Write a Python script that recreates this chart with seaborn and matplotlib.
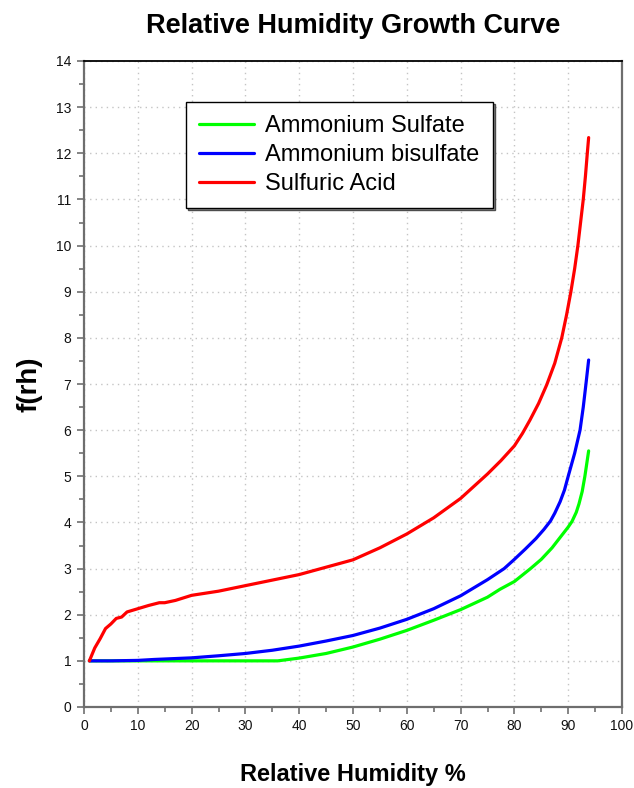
import matplotlib
matplotlib.use("Agg")
import matplotlib.pyplot as plt
from matplotlib.ticker import MultipleLocator
import pandas as pd
import seaborn as sns

# Growth factor f(rh) versus relative humidity for three aerosol types
series_names = ["Ammonium Sulfate", "Ammonium bisulfate", "Sulfuric Acid"]

sulfate_rh = [1, 10, 20, 30, 36, 38, 40, 45, 50, 55, 60, 65, 70, 75, 77.3,
              80, 83, 85, 87, 89, 90, 90.7, 91.5, 92, 92.6, 93.1, 93.8]
sulfate_f = [1.0, 1.0, 1.0, 1.0, 1.0, 1.03, 1.06, 1.16, 1.30, 1.47, 1.66,
             1.88, 2.11, 2.38, 2.55, 2.72, 3.0, 3.2, 3.45, 3.75, 3.9, 4.02,
             4.22, 4.4, 4.67, 5.0, 5.55]

bisulfate_rh = [1, 5, 10, 13, 15, 20, 25, 30, 35, 40, 45, 50, 55, 60, 65, 70,
                75, 78.1, 80, 82, 84, 85.5, 86.7, 87.5, 88.5, 89.3, 90, 91.2,
                92.2, 92.8, 93.3, 93.8]
bisulfate_f = [1.0, 1.0, 1.01, 1.03, 1.04, 1.065, 1.11, 1.16, 1.23, 1.32,
               1.43, 1.55, 1.71, 1.90, 2.13, 2.41, 2.76, 3.0, 3.2, 3.42, 3.65,
               3.85, 4.03, 4.2, 4.45, 4.7, 5.0, 5.5, 6.0, 6.5, 7.0, 7.52]

acid_rh = [1, 2, 3, 4, 5, 6, 7, 8, 10, 12, 14, 15, 17, 20, 25, 30, 35, 40,
           45, 50, 55, 60, 65, 70, 75, 77.5, 80, 81.5, 82.9, 84.5, 86, 87.5,
           88.8, 89.7, 90.5, 91.2, 91.8, 92.3, 92.8, 93.2, 93.55, 93.8]
acid_f = [1.0, 1.28, 1.48, 1.70, 1.80, 1.92, 1.95, 2.06, 2.13, 2.20, 2.26,
          2.26, 2.31, 2.42, 2.51, 2.63, 2.75, 2.87, 3.03, 3.19, 3.45, 3.75,
          4.10, 4.52, 5.05, 5.34, 5.66, 5.93, 6.22, 6.58, 6.98, 7.45, 8.0,
          8.5, 9.0, 9.5, 10.0, 10.5, 11.0, 11.5, 12.0, 12.34]

line_colors = ["#00ff00", "#0000ff", "#ff0000"]

x_ticks = list(range(0, 101, 10))
y_ticks = list(range(0, 15))

frames = []
for name, rh, f in zip(series_names,
                       [sulfate_rh, bisulfate_rh, acid_rh],
                       [sulfate_f, bisulfate_f, acid_f]):
    frames.append(pd.DataFrame({"rh": rh, "f": f, "species": name}))
data = pd.concat(frames, ignore_index=True)

sns.set_style("white")
plt.rcParams["font.family"] = ["Liberation Sans", "DejaVu Sans"]
plt.rcParams["text.color"] = "black"
plt.rcParams["axes.labelcolor"] = "black"

fig = plt.figure(figsize=(6.34, 7.88), dpi=100)
ax = fig.add_axes([84 / 634, 1 - 707 / 788, 538 / 634, 646 / 788])

sns.lineplot(data=data, x="rh", y="f", hue="species", hue_order=series_names,
             palette=line_colors, sort=False, estimator=None, linewidth=2.3,
             ax=ax, legend=False)

ax.set_xlim(0, 100)
ax.set_ylim(0, 14)
ax.set_xticks(x_ticks)
ax.set_yticks(y_ticks)
ax.xaxis.set_minor_locator(MultipleLocator(5))
ax.yaxis.set_minor_locator(MultipleLocator(0.5))

ax.grid(True, which="major", color="#c4c4c4", linestyle=(0, (1, 3)),
        linewidth=1.0)
ax.set_axisbelow(True)

ax.tick_params(which="major", direction="out", length=5, width=1.2,
               color="#707070", labelsize=10, labelcolor="#111111", pad=4,
               bottom=True, left=True)
ax.tick_params(which="minor", direction="out", length=3.5, width=1.2,
               color="#707070", bottom=True, left=True)

for side in ["left", "bottom", "right"]:
    ax.spines[side].set_color("#6e6e6e")
    ax.spines[side].set_linewidth(1.6)
ax.spines["top"].set_color("black")
ax.spines["top"].set_linewidth(1.3)

ax.set_xlabel("Relative Humidity %", fontsize=17, fontweight="bold",
              labelpad=21)
ax.set_ylabel("f(rh)", fontsize=20, fontweight="bold", labelpad=10)
ax.set_title("Relative Humidity Growth Curve", fontsize=19.5,
             fontweight="bold", pad=20)

handles = [plt.Line2D([], [], color=c, linewidth=2.3) for c in line_colors]
leg = ax.legend(handles, series_names, loc="upper left",
                bbox_to_anchor=(0.19, 0.9365), fontsize=17, frameon=True,
                fancybox=False, framealpha=1, edgecolor="black",
                borderpad=0.55, labelspacing=0.3, handlelength=2.3,
                handletextpad=0.5, borderaxespad=0,
                shadow={"ox": 1.5, "oy": -1.5, "facecolor": "0.55",
                        "alpha": 1})
leg.get_frame().set_linewidth(1.0)

fig.savefig("out.png", dpi=100)
